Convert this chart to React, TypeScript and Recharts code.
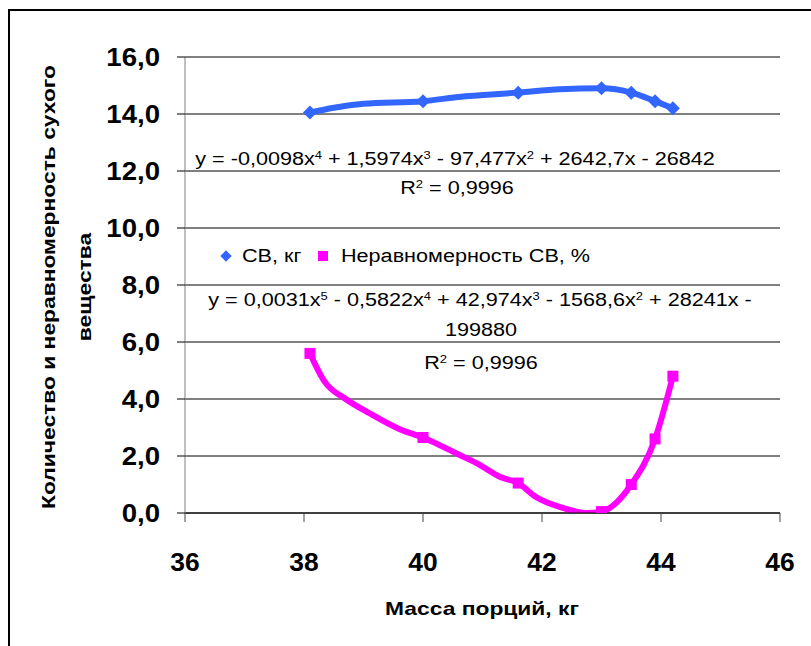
import React from "react";
import { ComposedChart, Line, Scatter, XAxis, YAxis, CartesianGrid } from "recharts";

const FONT = "'Liberation Sans', Arial, sans-serif";

const massTicks = [36, 38, 40, 42, 44, 46];
const valueTicks = [0, 2, 4, 6, 8, 10, 12, 14, 16];

// СВ, кг — measured points
const cvMass = [38.1, 40.0, 41.6, 43.0, 43.5, 43.9, 44.2];
const cvValue = [14.05, 14.45, 14.75, 14.9, 14.75, 14.45, 14.2];

// Неравномерность СВ, % — measured points
const unevenMass = [38.1, 40.0, 41.6, 43.0, 43.5, 43.9, 44.2];
const unevenValue = [5.6, 2.65, 1.05, 0.05, 1.0, 2.6, 4.8];

// trend lines
const cvTrendMass = [38.1, 38.5, 39.0, 40.0, 40.6, 41.6, 42.3, 43.0, 43.5, 43.9, 44.2];
const cvTrendValue = [14.05, 14.22, 14.36, 14.45, 14.6, 14.75, 14.87, 14.9, 14.75, 14.45, 14.2];
const unevenTrendMass = [38.1, 38.35, 38.7, 39.1, 39.6, 40.0, 40.6, 40.9, 41.3, 41.6, 41.9, 42.35, 42.75, 43.0, 43.5, 43.9, 44.2];
const unevenTrendValue = [5.6, 4.6, 4.0, 3.5, 2.95, 2.65, 2.05, 1.75, 1.26, 1.05, 0.56, 0.18, 0.0, 0.05, 1.0, 2.6, 4.8];

const toPoints = (xs: number[], ys: number[]) => xs.map((x, i) => ({ x, y: ys[i] }));

const cvPoints = toPoints(cvMass, cvValue);
const unevenPoints = toPoints(unevenMass, unevenValue);
const cvTrend = toPoints(cvTrendMass, cvTrendValue);
const unevenTrend = toPoints(unevenTrendMass, unevenTrendValue);

const BLUE = "#3366FF";
const PINK = "#FF00FF";

const ValueTick = ({ x, y, payload }: any) => (
  <g transform={`translate(${x},${y}) scale(1.15,1.05)`}>
    <text textAnchor="end" dy={8.5} fontFamily={FONT} fontWeight="bold" fontSize={24} fill="#000">
      {Number(payload.value).toFixed(1).replace(".", ",")}
    </text>
  </g>
);

const MassTick = ({ x, y, payload }: any) => (
  <g transform={`translate(${x},${y}) scale(1.1,1.05)`}>
    <text textAnchor="middle" dy={20} fontFamily={FONT} fontWeight="bold" fontSize={24} fill="#000">
      {payload.value}
    </text>
  </g>
);

const Diamond = ({ cx, cy }: any) => (
  <path d={`M${cx},${cy - 7} L${cx + 7},${cy} L${cx},${cy + 7} L${cx - 7},${cy} Z`} fill={BLUE} />
);

const Square = ({ cx, cy }: any) => (
  <rect x={cx - 5.5} y={cy - 5.5} width={11} height={11} fill={PINK} />
);

const Sup = ({ children }: { children: React.ReactNode }) => (
  <sup style={{ fontSize: "0.6em", lineHeight: 0, verticalAlign: "0.55em" }}>{children}</sup>
);

// text stretched along its reading direction, like the original rendering
const Txt = ({ x, y, size = 18, bold = false, anchor = "middle", children }: any) => (
  <div
    style={{
      position: "absolute",
      left: x,
      top: y,
      transform: anchor === "middle" ? "translate(-50%, -50%) scaleX(1.2)" : "translate(0, -50%) scaleX(1.2)",
      transformOrigin: anchor === "middle" ? "50% 50%" : "0 50%",
      whiteSpace: "nowrap",
      fontFamily: FONT,
      fontSize: size,
      fontWeight: bold ? 700 : 400,
      lineHeight: `${size + 2}px`,
      color: "#000",
    }}
  >
    {children}
  </div>
);

export default function App() {
  return (
    <div
      style={{
        position: "absolute",
        left: 0,
        top: 0,
        width: 811,
        height: 646,
        overflow: "hidden",
        background: "#fff",
      }}
    >
      <div
        style={{
          position: "absolute",
          left: 8,
          top: 9,
          width: 900,
          height: 700,
          border: "2px solid #000",
        }}
      />
      <div style={{ position: "absolute", left: 0, top: 0 }}>
        <ComposedChart width={811} height={646} margin={{ top: 57, right: 31, bottom: 73, left: 0 }}>
          <CartesianGrid vertical={false} stroke="#000" strokeWidth={1} />
          <XAxis
            type="number"
            dataKey="x"
            domain={[36, 46]}
            ticks={massTicks}
            allowDataOverflow
            height={60}
            tickSize={9}
            tickMargin={28}
            axisLine={{ stroke: "#000" }}
            tickLine={{ stroke: "#444" }}
            tick={MassTick}
          />
          <YAxis
            type="number"
            dataKey="y"
            domain={[0, 16]}
            ticks={valueTicks}
            allowDataOverflow
            width={185}
            tickSize={8}
            tickMargin={17}
            axisLine={{ stroke: "#808080" }}
            tickLine={{ stroke: "#000" }}
            tick={ValueTick}
          />
          <Line data={unevenTrend} dataKey="y" type="monotone" stroke={PINK} strokeWidth={6} dot={false} isAnimationActive={false} />
          <Line data={cvTrend} dataKey="y" type="monotone" stroke={BLUE} strokeWidth={6} dot={false} isAnimationActive={false} />
          <Scatter data={unevenPoints} dataKey="y" shape={Square} isAnimationActive={false} />
          <Scatter data={cvPoints} dataKey="y" shape={Diamond} isAnimationActive={false} />
        </ComposedChart>
      </div>

      {/* trend equations */}
      <Txt x={455} y={159}>
        y = -0,0098x<Sup>4</Sup> + 1,5974x<Sup>3</Sup> - 97,477x<Sup>2</Sup> + 2642,7x - 26842
      </Txt>
      <Txt x={457} y={188}>
        R<Sup>2</Sup> = 0,9996
      </Txt>
      <Txt x={480} y={300}>
        y = 0,0031x<Sup>5</Sup> - 0,5822x<Sup>4</Sup> + 42,974x<Sup>3</Sup> - 1568,6x<Sup>2</Sup> + 28241x -
      </Txt>
      <Txt x={481} y={330}>199880</Txt>
      <Txt x={481} y={363}>
        R<Sup>2</Sup> = 0,9996
      </Txt>

      {/* legend */}
      <div
        style={{
          position: "absolute",
          left: 222,
          top: 252,
          width: 8,
          height: 8,
          background: BLUE,
          transform: "rotate(45deg)",
        }}
      />
      <Txt x={242} y={256} anchor="start">СВ, кг</Txt>
      <div style={{ position: "absolute", left: 318, top: 251, width: 10, height: 10, background: PINK }} />
      <Txt x={341} y={256} anchor="start">Неравномерность СВ, %</Txt>

      {/* axis titles */}
      <Txt x={482} y={608} size={19} bold>
        Масса порций, кг
      </Txt>
      <div
        style={{
          position: "absolute",
          left: 67,
          top: 287,
          transform: "translate(-50%, -50%) rotate(-90deg) scaleX(1.2)",
          whiteSpace: "nowrap",
          textAlign: "center",
          fontFamily: FONT,
          fontSize: 19,
          fontWeight: 700,
          lineHeight: "36px",
        }}
      >
        Количество и неравномерность сухого
        <br />
        вещества
      </div>
    </div>
  );
}
